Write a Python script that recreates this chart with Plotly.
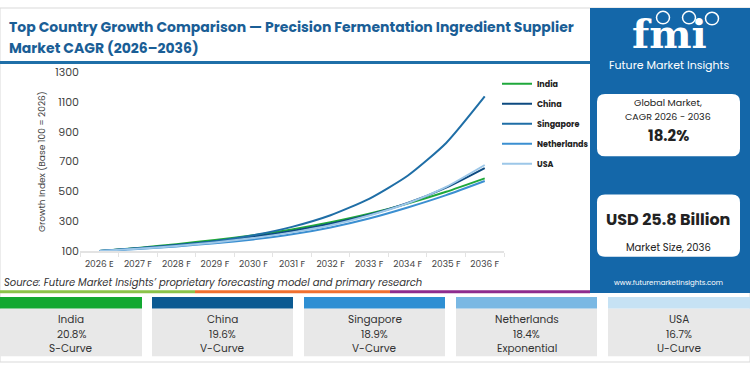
import plotly.graph_objects as go

years = ["2026 E", "2027 F", "2028 F", "2029 F", "2030 F", "2031 F",
         "2032 F", "2033 F", "2034 F", "2035 F", "2036 F"]

india = [100, 121, 146, 174, 206, 245, 293, 350, 418, 497, 587]
china = [100, 118, 140, 166, 197, 235, 283, 343, 422, 525, 656]
singapore = [100, 118, 138, 166, 206, 262, 340, 450, 605, 825, 1137]
netherlands = [100, 114, 131, 152, 178, 212, 258, 318, 392, 475, 570]
usa = [100, 115, 134, 157, 187, 225, 273, 338, 420, 530, 677]

series_names = ["India", "China", "Singapore", "Netherlands", "USA"]
series_values = [india, china, singapore, netherlands, usa]
line_colors = ["#1fa83b", "#0d4a80", "#1f6ea6", "#3b8fd1", "#9dc7e8"]

y_ticks = [100, 300, 500, 700, 900, 1100, 1300]

strip_cagr = ["20.8%", "19.6%", "18.9%", "18.4%", "16.7%"]
strip_curve = ["S-Curve", "V-Curve", "V-Curve", "Exponential", "U-Curve"]
strip_colors = ["#12a830", "#0b5a92", "#2e8fd3", "#7ab8e3", "#c6e2f4"]

title_line1 = "Top Country Growth Comparison — Precision Fermentation Ingredient Supplier"
title_line2 = "Market CAGR (2026–2036)"

W, H = 750, 370
FONT = "Poppins, Inter, Open Sans, sans-serif"

fig = go.Figure()
for i, (name, vals, col) in enumerate(zip(series_names, series_values, line_colors)):
    fig.add_trace(go.Scatter(
        x=years, y=vals, mode="lines", name=name,
        line=dict(color=col, width=2, shape="spline", smoothing=0.6),
        legendgroup=name, hoverinfo="x+y+name",
    ))


def px(x):
    return x / W


def py(y):
    return 1 - y / H


shapes = []
annotations = []

# outer light border
shapes.append(dict(type="rect", xref="paper", yref="paper", x0=0, x1=1, y0=0, y1=1,
                   line=dict(color="#d9d9d9", width=1), fillcolor="rgba(0,0,0,0)", layer="below"))
# title separator
shapes.append(dict(type="line", xref="paper", yref="paper", x0=0, x1=px(590), y0=py(57), y1=py(57),
                   line=dict(color="#1f6fa8", width=3)))
# right panel
shapes.append(dict(type="rect", xref="paper", yref="paper", x0=px(590), x1=1, y0=py(298), y1=1,
                   line=dict(width=0), fillcolor="#1467a9", layer="below"))


def rounded(x0, y0, x1, y1, r):
    X0, X1 = px(x0), px(x1)
    Y0, Y1 = py(y1), py(y0)
    rx, ry = r / W, r / H
    return (f"M{X0+rx},{Y0} L{X1-rx},{Y0} Q{X1},{Y0} {X1},{Y0+ry} L{X1},{Y1-ry} "
            f"Q{X1},{Y1} {X1-rx},{Y1} L{X0+rx},{Y1} Q{X0},{Y1} {X0},{Y1-ry} "
            f"L{X0},{Y0+ry} Q{X0},{Y0} {X0+rx},{Y0} Z")


for (y0, y1) in [(90, 155), (195, 260)]:
    shapes.append(dict(type="path", xref="paper", yref="paper", path=rounded(597, y0, 740, y1, 8),
                       line=dict(width=0), fillcolor="#ffffff"))

# logo globes
for cx, cy in [(663, 10), (689, 10), (712, 11)]:
    shapes.append(dict(type="circle", xref="paper", yref="paper",
                       x0=px(cx - 6.5), x1=px(cx + 6.5), y0=py(cy + 6.5), y1=py(cy - 6.5),
                       line=dict(color="#ffffff", width=1.5), fillcolor="#1467a9"))

# tri-colour line
for x0, x1, c in [(0, 195, "#8bc34a"), (195, 390, "#f07030"), (390, 590, "#8e2c8e")]:
    shapes.append(dict(type="line", xref="paper", yref="paper", x0=px(x0), x1=px(x1),
                       y0=py(296.5), y1=py(296.5), line=dict(color=c, width=3)))

# bottom strip
box_x = [(0, 142), (152, 293), (304, 445), (456, 597), (608, 750)]
for (x0, x1), c, name, cg, cv in zip(box_x, strip_colors, series_names, strip_cagr, strip_curve):
    shapes.append(dict(type="rect", xref="paper", yref="paper", x0=px(x0), x1=px(x1),
                       y0=py(364), y1=py(314), line=dict(width=0), fillcolor="#e8e8e8"))
    shapes.append(dict(type="rect", xref="paper", yref="paper", x0=px(x0), x1=px(x1),
                       y0=py(314), y1=py(302), line=dict(width=0), fillcolor=c))
    cx = px((x0 + x1) / 2)
    for txt, yy in [(name, 326), (cg, 341), (cv, 356)]:
        annotations.append(dict(text=txt, x=cx, y=py(yy), xref="paper", yref="paper",
                                showarrow=False, xanchor="center", yanchor="middle",
                                font=dict(family=FONT, size=10.5, color="#333333")))

# title
for txt, yy in [(title_line1, 20), (title_line2, 42)]:
    annotations.append(dict(text=f"<b>{txt}</b>", x=px(7), y=py(yy), xref="paper", yref="paper",
                            showarrow=False, xanchor="left", yanchor="middle", align="left",
                            font=dict(family=FONT, size=14, color="#1a5e96")))
# source
annotations.append(dict(text="<i>Source: Future Market Insights’ proprietary forecasting model and primary research</i>",
                        x=px(2), y=py(287), xref="paper", yref="paper", showarrow=False,
                        xanchor="left", yanchor="middle",
                        font=dict(family=FONT, size=10, color="#333333")))
# logo text
annotations.append(dict(text="<b>fmi</b>", x=px(669), y=py(27), xref="paper", yref="paper",
                        showarrow=False, xanchor="center", yanchor="middle",
                        font=dict(family="DejaVu Serif", size=40, color="#ffffff")))
annotations.append(dict(text="Future Market Insights", x=px(669), y=py(60), xref="paper", yref="paper",
                        showarrow=False, xanchor="center", yanchor="middle",
                        font=dict(family=FONT, size=11, color="#ffffff")))
# cards
for txt, yy, sz, bold in [("Global Market,", 98.5, 9.5, False), ("CAGR 2026 - 2036", 113, 9.5, False),
                          ("18.2%", 133, 15, True), ("USD 25.8 Billion", 221, 16, True),
                          ("Market Size, 2036", 250, 10, False)]:
    annotations.append(dict(text=f"<b>{txt}</b>" if bold else txt, x=px(668), y=py(yy),
                            xref="paper", yref="paper", showarrow=False,
                            xanchor="center", yanchor="middle",
                            font=dict(family=FONT, size=sz, color="#222222")))
annotations.append(dict(text="www.futuremarketinsights.com", x=px(668), y=py(287), xref="paper", yref="paper",
                        showarrow=False, xanchor="center", yanchor="middle",
                        font=dict(family=FONT, size=7, color="#ffffff")))

fig.update_layout(
    width=W, height=H,
    margin=dict(l=0, r=0, t=0, b=0),
    paper_bgcolor="#ffffff", plot_bgcolor="#ffffff",
    font=dict(family=FONT, color="#444444"),
    showlegend=True,
    legend=dict(x=px(497), y=py(64), xanchor="left", yanchor="top",
                font=dict(family=FONT, size=8, color="#222222", weight="bold"),
                bgcolor="rgba(0,0,0,0)", tracegroupgap=1, itemwidth=30),
    xaxis=dict(domain=[px(80), px(504)], range=[-0.5, 10.5], type="category",
               showgrid=False, showline=True, linecolor="#e3e3e3", linewidth=1.5,
               ticks="outside", tickson="boundaries", ticklen=4, tickcolor="#e3e3e3",
               tickangle=0, ticklabelstandoff=3,
               tickfont=dict(family=FONT, size=9, color="#444444"), zeroline=False),
    yaxis=dict(domain=[py(254), py(67)], range=[100, 1300], tickvals=y_ticks,
               showgrid=False, showline=False, zeroline=False,
               tickfont=dict(family=FONT, size=11, color="#444444"),
               title=dict(text="Growth Index (Base 100 = 2026)",
                          font=dict(family=FONT, size=9, color="#444444"), standoff=8)),
    shapes=shapes,
    annotations=annotations,
)

post = ("document.documentElement.style.margin='0';document.documentElement.style.padding='0';"
        "document.documentElement.style.overflow='hidden';"
        "document.body.style.margin='0';document.body.style.padding='0';document.body.style.overflow='hidden';"
        "var gd=document.getElementById('{plot_id}');gd.style.position='fixed';gd.style.top='0';gd.style.left='0';")

fig.write_html("out.html", config={"displayModeBar": False}, post_script=post)
